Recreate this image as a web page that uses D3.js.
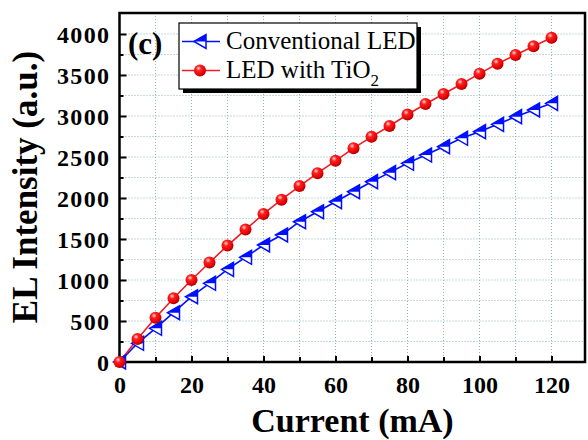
<!DOCTYPE html>
<html><head><meta charset="utf-8">
<script src="https://cdn.jsdelivr.net/npm/d3@7"></script>
<style>html,body{margin:0;padding:0;background:#fff;} svg{display:block;}</style>
</head><body>
<svg id="chart" width="588" height="440"></svg>
<script>
const currents = [0,5,10,15,20,25,30,35,40,45,50,55,60,65,70,75,80,85,90,95,100,105,110,115,120];
const conventional = [0,228,411,601,796,960,1130,1277,1427,1549,1711,1833,1955,2077,2199,2309,2423,2524,2626,2728,2809,2898,2992,3073,3154];
const withTiO2 = [0,280,540,777,1000,1214,1420,1615,1805,1980,2146,2303,2453,2608,2746,2878,3018,3146,3268,3390,3516,3638,3744,3850,3955];
const xTicks = [0,20,40,60,80,100,120];
const yTicks = [0,500,1000,1500,2000,2500,3000,3500,4000];
const xMinor = [10,30,50,70,90,110];
const yMinor = [250,750,1250,1750,2250,2750,3250,3750];
const xGrid = [10,20,30,40,50,60,70,80,90,100,110,120];
const yGrid = [250,500,750,1000,1250,1500,1750,2000,2250,2500,2750,3000,3250,3500,3750,4000];
const seriesNames = ["Conventional LED","LED with TiO"];

const svg = d3.select("#chart");
const F = "'Liberation Serif','Times New Roman',serif";
const L = 119.5, R = 585, T = 13, B = 362;
const x = d3.scaleLinear().domain([0,129.3]).range([L,R]);
const y = d3.scaleLinear().domain([0,4256]).range([B,T]);

const defs = svg.append("defs");
const g = defs.append("radialGradient").attr("id","ball").attr("cx","0.38").attr("cy","0.32").attr("r","0.7");
g.append("stop").attr("offset","0").attr("stop-color","#ffe0e0");
g.append("stop").attr("offset","0.3").attr("stop-color","#ff2020");
g.append("stop").attr("offset","0.8").attr("stop-color","#e00000");
g.append("stop").attr("offset","1").attr("stop-color","#a00000");

// grid
const grid = svg.append("g").attr("stroke","#8fb5b5").attr("stroke-width",1).attr("stroke-dasharray","1,2");
grid.selectAll(".gx").data(xGrid).enter().append("line")
  .attr("x1",d=>x(d)).attr("x2",d=>x(d)).attr("y1",T).attr("y2",B);
grid.selectAll(".gy").data(yGrid).enter().append("line")
  .attr("y1",d=>y(d)).attr("y2",d=>y(d)).attr("x1",L).attr("x2",R);

// axes
const fmt = d3.format("d");
const xAxis = d3.axisBottom(x).tickValues(xTicks).tickFormat(fmt).tickSizeInner(-6).tickSizeOuter(0).tickPadding(14);
const xAxisMinor = d3.axisBottom(x).tickValues(xMinor).tickSizeInner(-5).tickSizeOuter(0).tickFormat("");
const yAxis = d3.axisLeft(y).tickValues(yTicks).tickFormat(fmt).tickSizeInner(-7).tickSizeOuter(0).tickPadding(9);
const yAxisMinor = d3.axisLeft(y).tickValues(yMinor).tickSizeInner(-4).tickSizeOuter(0).tickFormat("");

function styleAxis(sel){
  sel.attr("font-family",F);
  sel.select(".domain").remove();
  sel.selectAll(".tick line").attr("stroke","#000").attr("stroke-width",2);
  sel.selectAll("text").attr("font-family",F).attr("font-weight","bold").attr("font-size",24).attr("fill","#000");
}
svg.append("g").attr("transform",`translate(0,${B})`).call(xAxis).call(styleAxis)
  .selectAll("text").attr("dy","0.71em");
svg.append("g").attr("transform",`translate(0,${B})`).call(xAxisMinor).call(styleAxis);
svg.append("g").attr("transform",`translate(${L},0)`).call(yAxis).call(styleAxis)
  .selectAll("text").attr("letter-spacing","1.4px").attr("dy","0.34em");
svg.append("g").attr("transform",`translate(${L},0)`).call(yAxisMinor).call(styleAxis);

// frame
svg.append("rect").attr("x",L).attr("y",T).attr("width",R-L).attr("height",B-T)
  .attr("fill","none").attr("stroke","#000").attr("stroke-width",2.5);

// data lines
const blueData = currents.map((c,i)=>[c,conventional[i]]);
const redData = currents.map((c,i)=>[c,withTiO2[i]]);
const line = d3.line().x(d=>x(d[0])).y(d=>y(d[1]));
svg.append("path").datum(blueData).attr("d",line).attr("fill","none").attr("stroke","#0010ff").attr("stroke-width",1.6);
svg.append("path").datum(redData).attr("d",line).attr("fill","none").attr("stroke","#ee1c24").attr("stroke-width",1.6);

function triangle(sel, cx, cy){
  const w = 12, h = 14;
  const gg = sel.append("g").attr("transform",`translate(${cx},${cy})`);
  gg.append("path").attr("d",`M${-w/2},0 L${w/2},${-h/2} L${w/2},${h/2} Z`)
    .attr("fill","#fff").attr("stroke","#0010ff").attr("stroke-width",1.5);
  gg.append("path").attr("d",`M${-w/2},0 L${w/2},${-h/2} L${w/2},0 Z`)
    .attr("fill","#0010ff");
}
function ball(sel, cx, cy, r){
  sel.append("circle").attr("cx",cx).attr("cy",cy).attr("r",r).attr("fill","url(#ball)");
}
const mb = svg.append("g");
blueData.forEach(d=>triangle(mb, x(d[0]), y(d[1])));
const mr = svg.append("g");
redData.forEach(d=>ball(mr, x(d[0]), y(d[1]), 6));

// legend
const lg = svg.append("g");
lg.append("rect").attr("x",183).attr("y",27).attr("width",238).attr("height",66).attr("fill","#000");
lg.append("rect").attr("x",179).attr("y",23).attr("width",238).attr("height",66).attr("fill","#fff").attr("stroke","#000").attr("stroke-width",1.2);
lg.append("line").attr("x1",182).attr("x2",220).attr("y1",41.5).attr("y2",41.5).attr("stroke","#0010ff").attr("stroke-width",1.6);
triangle(lg, 200, 41.5);
lg.append("line").attr("x1",182).attr("x2",220).attr("y1",70.5).attr("y2",70.5).attr("stroke","#ee1c24").attr("stroke-width",1.6);
ball(lg, 200, 70.5, 6);
lg.append("text").attr("x",226).attr("y",49).attr("font-family",F).attr("font-size",25).text(seriesNames[0]);
const t2 = lg.append("text").attr("x",226).attr("y",78).attr("font-family",F).attr("font-size",25).text(seriesNames[1]);
t2.append("tspan").attr("font-size",17).attr("dy",8).text("2");

// panel label
svg.append("text").attr("x",128).attr("y",54).attr("font-family",F).attr("font-weight","bold").attr("font-size",31).text("(c)");

// axis titles
svg.append("text").attr("x",(245+460)/2).attr("y",432).attr("text-anchor","middle")
  .attr("font-family",F).attr("font-weight","bold").attr("font-size",34).text("Current (mA)");
svg.append("text").attr("transform","translate(37,187) rotate(-90)").attr("text-anchor","middle")
  .attr("font-family",F).attr("font-weight","bold").attr("font-size",35).text("EL Intensity (a.u.)");
</script>
</body></html>
